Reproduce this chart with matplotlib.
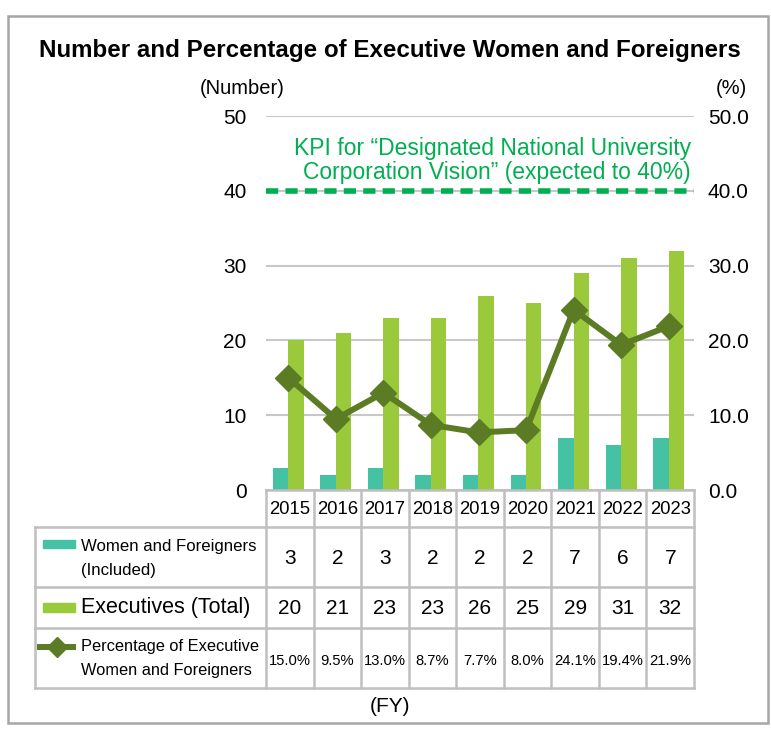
import numpy as np
import matplotlib
matplotlib.use('Agg')
import matplotlib.pyplot as plt
from matplotlib.lines import Line2D
from matplotlib.patches import Rectangle

years = ['2015', '2016', '2017', '2018', '2019', '2020', '2021', '2022', '2023']
women_foreigners = [3, 2, 3, 2, 2, 2, 7, 6, 7]
executives = [20, 21, 23, 23, 26, 25, 29, 31, 32]
percentage = [15.0, 9.5, 13.0, 8.7, 7.7, 8.0, 24.1, 19.4, 21.9]
kpi = 40

teal = '#45C1A4'
green = '#9ACA3C'
olive = '#5B7B25'
kpi_green = '#00B050'
grid_c = '#C8C8C8'
border_c = '#BFBFBF'

plt.rcParams['font.family'] = ['Liberation Sans', 'DejaVu Sans']

W, H = 771, 731
fig = plt.figure(figsize=(W / 100, H / 100), dpi=100)

def fx(px):
    return px / W

def fy(py):
    return 1 - py / H

# plot area
L, R, T, B = 266, 694, 116, 490
ax = fig.add_axes([fx(L), fy(B), fx(R) - fx(L), fy(T) - fy(B)])
ax2 = ax.twinx()
x = np.arange(len(years))
w = 0.325
ax.bar(x - 0.195, women_foreigners, width=w, color=teal, zorder=3)
ax.bar(x + 0.13, executives, width=w, color=green, zorder=3)
ax.set_xlim(-0.5, len(years) - 0.5)
ax.set_ylim(0, 50)
ax.set_yticks(range(0, 51, 10))
ax.set_yticklabels([str(v) for v in range(0, 51, 10)])
ax.yaxis.grid(True, color=grid_c, linewidth=1.5, zorder=0)
ax.set_axisbelow(True)
ax.set_xticks([])
ax.tick_params(axis='y', length=0, labelsize=15, pad=14)
for s in ax.spines.values():
    s.set_visible(False)

ax2.set_ylim(0, 50)
ax2.set_yticks(range(0, 51, 10))
ax2.set_yticklabels(['%.1f' % v for v in range(0, 51, 10)])
ax2.tick_params(axis='y', length=0, labelsize=15, pad=10)
for s in ax2.spines.values():
    s.set_visible(False)
ax2.axhline(kpi, color=kpi_green, linewidth=4, linestyle=(0, (2.2, 1.3)), zorder=4)
ax2.plot(x - 0.03, percentage, color=olive, linewidth=4.3, marker='D', markersize=13, zorder=5)
ax2.text(len(years) - 0.57, 44.1,
         'KPI for \u201cDesignated National University\nCorporation Vision\u201d (expected to 40%)',
         color=kpi_green, fontsize=16.5, ha='right', va='center', linespacing=1.05)

# outer frame
fig.add_artist(Rectangle((fx(8), fy(723)), fx(768) - fx(8), fy(16) - fy(723),
                         transform=fig.transFigure, fill=False, edgecolor='#A6A6A6', linewidth=1.8))

fig.text(fx(390), fy(50), 'Number and Percentage of Executive Women and Foreigners',
         ha='center', va='center', fontsize=17.4, fontweight='bold')
fig.text(fx(242), fy(88), '(Number)', ha='center', va='center', fontsize=14.5)
fig.text(fx(731), fy(88), '(%)', ha='center', va='center', fontsize=14.5)
fig.text(fx(390), fy(706), '(FY)', ha='center', va='center', fontsize=15)

# data table
n = len(years)
col = [L + (R - L) * i / n for i in range(n + 1)]
rows = [490, 527, 587, 628, 688]
TL = 35

def hline(y0, x0, x1):
    fig.add_artist(Line2D([fx(x0), fx(x1)], [fy(y0), fy(y0)], color=border_c, linewidth=1.8))

def vline(xp, y0, y1):
    fig.add_artist(Line2D([fx(xp), fx(xp)], [fy(y0), fy(y1)], color=border_c, linewidth=1.8))

hline(rows[0], col[0], col[-1])
for yy in rows[1:]:
    hline(yy, TL, col[-1])
for xp in col:
    vline(xp, rows[0], rows[-1])
vline(TL, rows[1], rows[-1])

for i in range(n):
    cx = (col[i] + col[i + 1]) / 2
    fig.text(fx(cx), fy(509), years[i], ha='center', va='center', fontsize=13.3)
    fig.text(fx(cx), fy(558), str(women_foreigners[i]), ha='center', va='center', fontsize=15)
    fig.text(fx(cx), fy(608), str(executives[i]), ha='center', va='center', fontsize=15)
    fig.text(fx(cx), fy(661), '%.1f%%' % percentage[i], ha='center', va='center', fontsize=10.6)

# legend keys in the table
fig.add_artist(Rectangle((fx(43), fy(548)), fx(75) - fx(43), fy(540) - fy(548),
                         transform=fig.transFigure, color=teal))
fig.add_artist(Rectangle((fx(43), fy(612)), fx(75) - fx(43), fy(603) - fy(612),
                         transform=fig.transFigure, color=green))
fig.add_artist(Line2D([fx(40), fx(73)], [fy(647), fy(647)], color=olive, linewidth=4.3))
fig.add_artist(Line2D([fx(57)], [fy(647)], color=olive, marker='D', markersize=10))

fig.text(fx(81), fy(546), 'Women and Foreigners', ha='left', va='center', fontsize=12.1)
fig.text(fx(81), fy(571), '(Included)', ha='left', va='center', fontsize=12.1)
fig.text(fx(81), fy(607), 'Executives (Total)', ha='left', va='center', fontsize=15.5)
fig.text(fx(81), fy(646), 'Percentage of Executive', ha='left', va='center', fontsize=11.8)
fig.text(fx(81), fy(671), 'Women and Foreigners', ha='left', va='center', fontsize=11.8)

fig.savefig('out.png', dpi=100)
